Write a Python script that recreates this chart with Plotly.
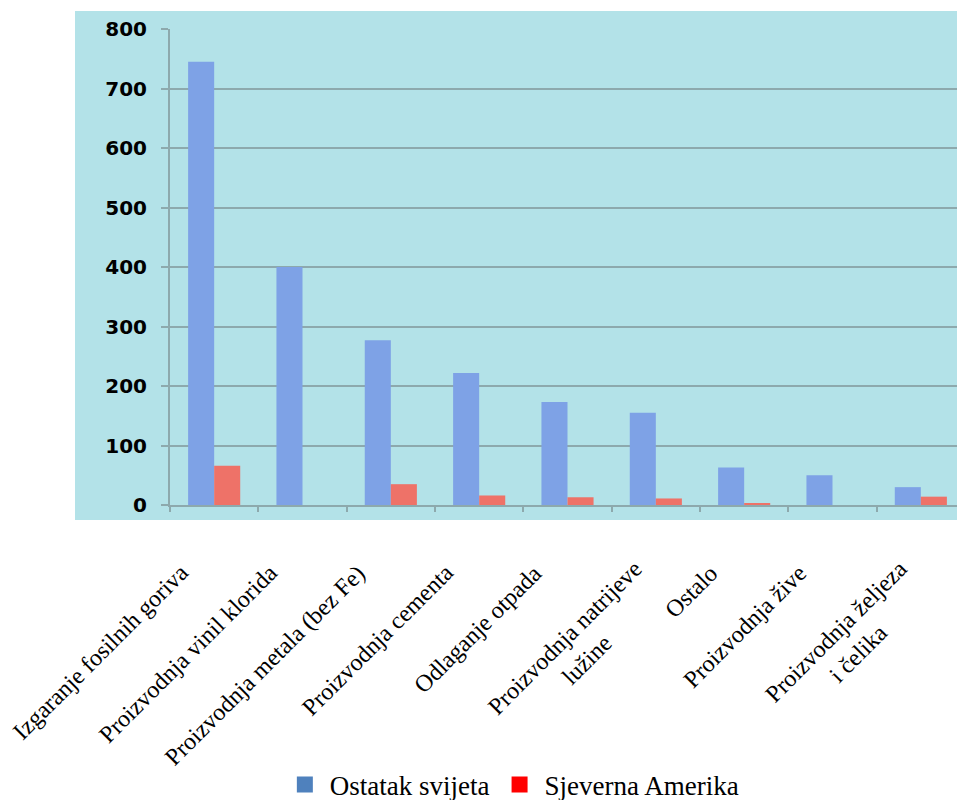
import plotly.graph_objects as go

categories = [
    "Izgaranje fosilnih goriva",
    "Proizvodnja vinil klorida",
    "Proizvodnja metala (bez Fe)",
    "Proizvodnja cementa",
    "Odlaganje otpada",
    "Proizvodnja natrijeve<br>lužine",
    "Ostalo",
    "Proizvodnja žive",
    "Proizvodnja željeza<br>i čelika",
]
ostatak_svijeta = [745, 400, 277, 222, 173, 155, 63, 50, 30]
sjeverna_amerika = [66, 0, 35, 16, 13, 11, 2, 0, 14]
y_ticks = [0, 100, 200, 300, 400, 500, 600, 700, 800]

serif = "Liberation Serif, Times New Roman, serif"
grid_col = "#8DA9AD"

fig = go.Figure()
fig.add_trace(go.Bar(x=categories, y=ostatak_svijeta, name="Ostatak svijeta",
                     marker=dict(color="#7EA2E6", line=dict(width=0)), showlegend=False))
fig.add_trace(go.Bar(x=categories, y=sjeverna_amerika, name="Sjeverna Amerika",
                     marker=dict(color="#EE7268", line=dict(width=0)), showlegend=False))
# legend swatches
fig.add_trace(go.Scatter(x=[categories[0]], y=[None], mode="markers", name="Ostatak svijeta",
                         marker=dict(symbol="square", size=18, color="#4F81BD")))
fig.add_trace(go.Scatter(x=[categories[0]], y=[None], mode="markers", name="Sjeverna Amerika",
                         marker=dict(symbol="square", size=18, color="#FF0000")))

# background panel
fig.add_shape(type="rect", xref="paper", yref="paper",
              x0=-0.1195, x1=1.0, y0=-0.0315, y1=1.0378,
              fillcolor="#B3E2E8", line=dict(width=0), layer="below")

for cat in categories:
    multi = "<br>" in cat
    fig.add_annotation(x=cat, y=0, xref="x", yref="y", text=cat, showarrow=False,
                       textangle=-45, xanchor="right", yanchor="top",
                       xshift=16 if multi else -18, yshift=-48 if multi else -52,
                       align="center",
                       font=dict(family=serif, size=24, color="black"))

fig.update_layout(
    width=957, height=792,
    margin=dict(l=162, r=0, t=21, b=295, autoexpand=False),
    paper_bgcolor="white", plot_bgcolor="rgba(0,0,0,0)",
    font=dict(family=serif, color="black"),
    barmode="group", bargap=0.41, bargroupgap=0,
    legend=dict(orientation="h", x=0.43, xanchor="center", y=-0.588, yanchor="middle",
                font=dict(family=serif, size=27, color="black"), itemwidth=40,
                bgcolor="rgba(0,0,0,0)"),
    showlegend=True,
)
fig.update_xaxes(showticklabels=False, showgrid=False, showline=True, linecolor=grid_col,
                 linewidth=2, ticks="outside", tickson="boundaries", ticklen=5,
                 tickcolor=grid_col, tickwidth=2, zeroline=False,
                 categoryorder="array", categoryarray=categories,
                 range=[-0.5, len(categories) - 0.5], autorange=False)
fig.update_yaxes(range=[0, 800], tickvals=y_ticks, showgrid=True, gridcolor=grid_col,
                 gridwidth=2, showline=True, linecolor=grid_col, linewidth=2,
                 ticks="outside", ticklen=7, tickcolor=grid_col, tickwidth=2,
                 zeroline=False, ticklabelstandoff=10,
                 tickfont=dict(family="DejaVu Sans", size=20, color="black", weight="bold"))

fig.write_html("out.html")
